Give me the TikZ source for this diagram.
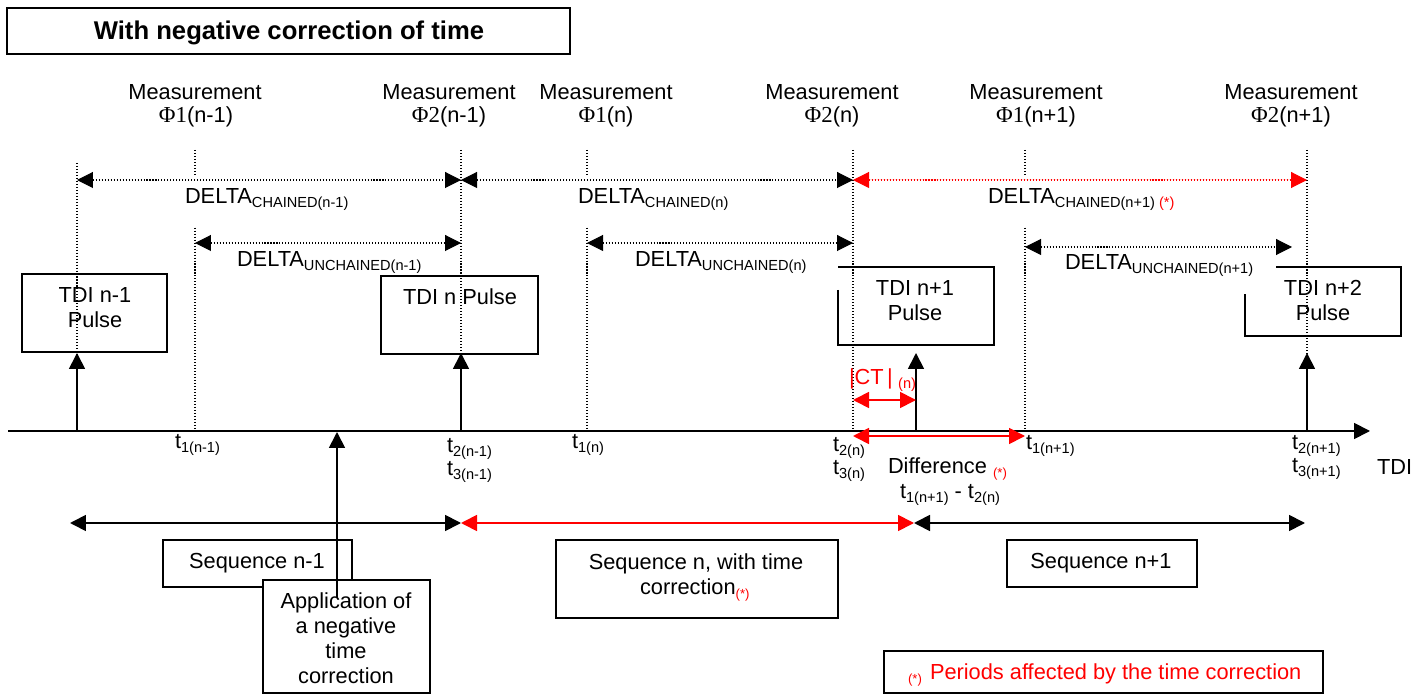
\documentclass[tikz,border=0pt]{standalone}
\usepackage{fontspec}
\setmainfont{Liberation Sans}
\newfontfamily\phifont{Liberation Serif}
\usetikzlibrary{arrows.meta}
\definecolor{cred}{RGB}{255,0,0}
\newcommand\sbs[1]{\raisebox{-1.8pt}{\fontsize{8.3}{9}\selectfont #1}}
\newcommand\rst{\raisebox{-1.8pt}{\fontsize{7.5}{8}\selectfont\color{cred}(*)}}
\begin{document}
\begin{tikzpicture}[x=0.02cm,y=-0.02cm,
  every node/.style={inner sep=0pt, outer sep=0pt},
  txt/.style={font=\fontsize{12.4}{14}\selectfont, anchor=base},
  txtw/.style={txt, anchor=base west},
  box/.style={draw=black, line width=0.8pt},
  dots/.style={line width=0.6pt, dash pattern=on 0.6pt off 1.1pt},
  solidln/.style={line width=1pt},
  >={Triangle[length=0.32cm,width=0.32cm]}
]
\path[use as bounding box] (0,0) rectangle (1420,695);

% title
\node[box, minimum width=11.26cm, minimum height=0.92cm] (titlebox) at (288.5,31) {};
\node[anchor=base, font=\bfseries\fontsize{14.6}{17}\selectfont] (title) at (289,40) {With negative correction of time};

% measurement labels
\node[txt] (m1) at (195,100) {Measurement};
\node[txt] (m2) at (449,100) {Measurement};
\node[txt] (m3) at (606,100) {Measurement};
\node[txt] (m4) at (832,100) {Measurement};
\node[txt] (m5) at (1036,100) {Measurement};
\node[txt] (m6) at (1291,100) {Measurement};
\node[txt] (f1) at (196,123) {{\phifont\fontsize{13}{14}\selectfont Φ1}(n-1)};
\node[txt] (f2) at (449,123) {{\phifont\fontsize{13}{14}\selectfont Φ2}(n-1)};
\node[txt] (f3) at (606,123) {{\phifont\fontsize{13}{14}\selectfont Φ1}(n)};
\node[txt] (f4) at (832,123) {{\phifont\fontsize{13}{14}\selectfont Φ2}(n)};
\node[txt] (f5) at (1036,123) {{\phifont\fontsize{13}{14}\selectfont Φ1}(n+1)};
\node[txt] (f6) at (1291,123) {{\phifont\fontsize{13}{14}\selectfont Φ2}(n+1)};

% vertical dotted guide lines
\coordinate (v1t) at (77,163);   \coordinate (v1b) at (77,431);
\coordinate (v2t) at (195,150);  \coordinate (v2b) at (195,431);
\coordinate (v3t) at (461,150);  \coordinate (v3b) at (461,431);
\coordinate (v4t) at (587,150);  \coordinate (v4b) at (587,431);
\coordinate (v5t) at (853,150);  \coordinate (v5b) at (853,431);
\coordinate (v6t) at (1025,150); \coordinate (v6b) at (1025,431);
\coordinate (v7t) at (1307,150); \coordinate (v7b) at (1307,431);
\foreach \i in {1,...,7} { \draw[dots] (v\i t) -- (v\i b); }

% TDI pulse boxes
\node[box, minimum width=2.9cm, minimum height=1.56cm] (tdi1) at (94.5,313) {};
\node[txt] (tdi1a) at (95,303) {TDI n-1};
\node[txt] (tdi1b) at (95,328) {Pulse};
\node[box, minimum width=3.14cm, minimum height=1.56cm] (tdi2) at (459.5,315) {};
\node[txt] (tdi2a) at (460,305) {TDI n Pulse};
\draw[box] (838,290) -- (838,345) -- (994,345) -- (994,267) -- (838,267);
\node[txt] (tdi3a) at (915,296) {TDI n+1};
\node[txt] (tdi3b) at (915,321) {Pulse};
\draw[box] (1276,267) -- (1401,267) -- (1401,336) -- (1245,336) -- (1245,294);
\node[txt] (tdi4a) at (1323,296) {TDI n+2};
\node[txt] (tdi4b) at (1323,321) {Pulse};

% label backgrounds interrupting guide lines
\fill[white] (180,175) rectangle (352,227);
\fill[white] (574,175) rectangle (733,227);
\fill[white] (984,175) rectangle (1178,227);

% DELTA labels
\node[txtw] (dc1) at (185,204) {DELTA\sbs{CHAINED(n-1)}};
\node[txtw] (dc2) at (578,204) {DELTA\sbs{CHAINED(n)}};
\node[txtw] (dc3) at (988,204) {DELTA\sbs{CHAINED(n+1) \textcolor{cred}{(*)}}};
\node[txtw] (du1) at (237,267) {DELTA\sbs{UNCHAINED(n-1)}};
\node[txtw] (du2) at (635,267) {DELTA\sbs{UNCHAINED(n)}};
\node[txtw] (du3) at (1065,270) {DELTA\sbs{UNCHAINED(n+1)}};

% DELTA arrows
\coordinate (c1) at (77,180); \coordinate (c2) at (461,180);
\coordinate (c3) at (853,180); \coordinate (c4) at (1307,180);
\draw[dots, <->] (c1) -- (c2);
\draw[dots, <->] (c2) -- (c3);
\draw[dots, <->, draw=cred, fill=cred] (c3) -- (c4);
\coordinate (u1a) at (195,243); \coordinate (u1b) at (461,243);
\coordinate (u2a) at (587,243); \coordinate (u2b) at (853,243);
\coordinate (u3a) at (1025,247); \coordinate (u3b) at (1292,247);
\draw[dots, <->] (u1a) -- (u1b);
\draw[dots, <->] (u2a) -- (u2b);
\draw[dots, <->] (u3a) -- (u3b);

% time axis
\coordinate (ax0) at (8,431); \coordinate (ax1) at (1370,431);
\draw[solidln, ->] (ax0) -- (ax1);
\node[txtw] (tdiax) at (1377,475) {TDI};

% pulses
\coordinate (p1a) at (77,431);   \coordinate (p1b) at (77,353);
\coordinate (p2a) at (461,431);  \coordinate (p2b) at (461,353);
\coordinate (p3a) at (916,431);  \coordinate (p3b) at (916,353);
\coordinate (p4a) at (1307,431); \coordinate (p4b) at (1307,353);
\foreach \i in {1,...,4} { \draw[solidln, ->] (p\i a) -- (p\i b); }

% CT and difference
\coordinate (ct0) at (853,400); \coordinate (ct1) at (916,400);
\draw[solidln, <->, draw=cred, fill=cred] (ct0) -- (ct1);
\node[txtw, text=cred] (ctl) at (849,385) {|CT\hspace{2pt}|\hspace{3pt}\sbs{(n)}};
\coordinate (d0) at (853,436); \coordinate (d1) at (1025,436);
\draw[solidln, <->, draw=cred, fill=cred] (d0) -- (d1);
\node[txtw] (diff) at (888,474) {Difference};
\node[anchor=base west, font=\fontsize{7.5}{8}\selectfont, text=cred] (diffst) at (993,478) {(*)};
\node[txtw] (diffeq) at (900,499) {t\sbs{1(n+1)} - t\sbs{2(n)}};

% time labels
\node[txtw] (t11) at (175,449) {t\sbs{1(n-1)}};
\node[txtw] (t21) at (447,453) {t\sbs{2(n-1)}};
\node[txtw] (t31) at (447,476) {t\sbs{3(n-1)}};
\node[txtw] (t12) at (572,449) {t\sbs{1(n)}};
\node[txtw] (t22) at (833,452) {t\sbs{2(n)}};
\node[txtw] (t32) at (833,475) {t\sbs{3(n)}};
\node[txtw] (t13) at (1026,450) {t\sbs{1(n+1)}};
\node[txtw] (t23) at (1292,450) {t\sbs{2(n+1)}};
\node[txtw] (t33) at (1292,473) {t\sbs{3(n+1)}};

% sequence arrows
\coordinate (s0) at (70,523); \coordinate (s1) at (461,523);
\coordinate (s2) at (914,523); \coordinate (s3) at (1305,523);
\draw[solidln, <->] (s0) -- (s1);
\draw[solidln, <->, draw=cred, fill=cred] (s1) -- (s2);
\draw[solidln, <->] (s2) -- (s3);

% sequence boxes
\node[box, minimum width=3.78cm, minimum height=0.94cm] (seq1) at (257.5,563.5) {};
\node[txt] (seq1t) at (257,568) {Sequence n-1};
\node[box, fill=white, minimum width=3.34cm, minimum height=2.26cm] (app) at (346.5,636.5) {};
\node[txt] (app1) at (346,608) {Application of};
\node[txt] (app2) at (346,633) {a negative};
\node[txt] (app3) at (346,658) {time};
\node[txt] (app4) at (346,683) {correction};
\coordinate (ap0) at (337,598); \coordinate (ap1) at (337,432);
\draw[solidln, ->] (ap0) -- (ap1);

\node[box, minimum width=5.64cm, minimum height=1.56cm] (seq2) at (697,579) {};
\node[txt] (seq2a) at (696,570) {Sequence n, with time};
\node[txtw] (seq2b) at (640,595) {correction\rst};
\node[box, minimum width=3.8cm, minimum height=0.94cm] (seq3) at (1102,563.5) {};
\node[txt] (seq3t) at (1101,568) {Sequence n+1};

% legend
\node[box, minimum width=8.78cm, minimum height=0.84cm] (legend) at (1103.5,672) {};
\node[anchor=base west, font=\fontsize{7.5}{8}\selectfont, text=cred] (legst) at (908,683) {(*)};
\node[anchor=base west, font=\fontsize{12.4}{14}\selectfont, text=cred] (legt) at (930,679) {Periods affected by the time correction};
\end{tikzpicture}
\end{document}
